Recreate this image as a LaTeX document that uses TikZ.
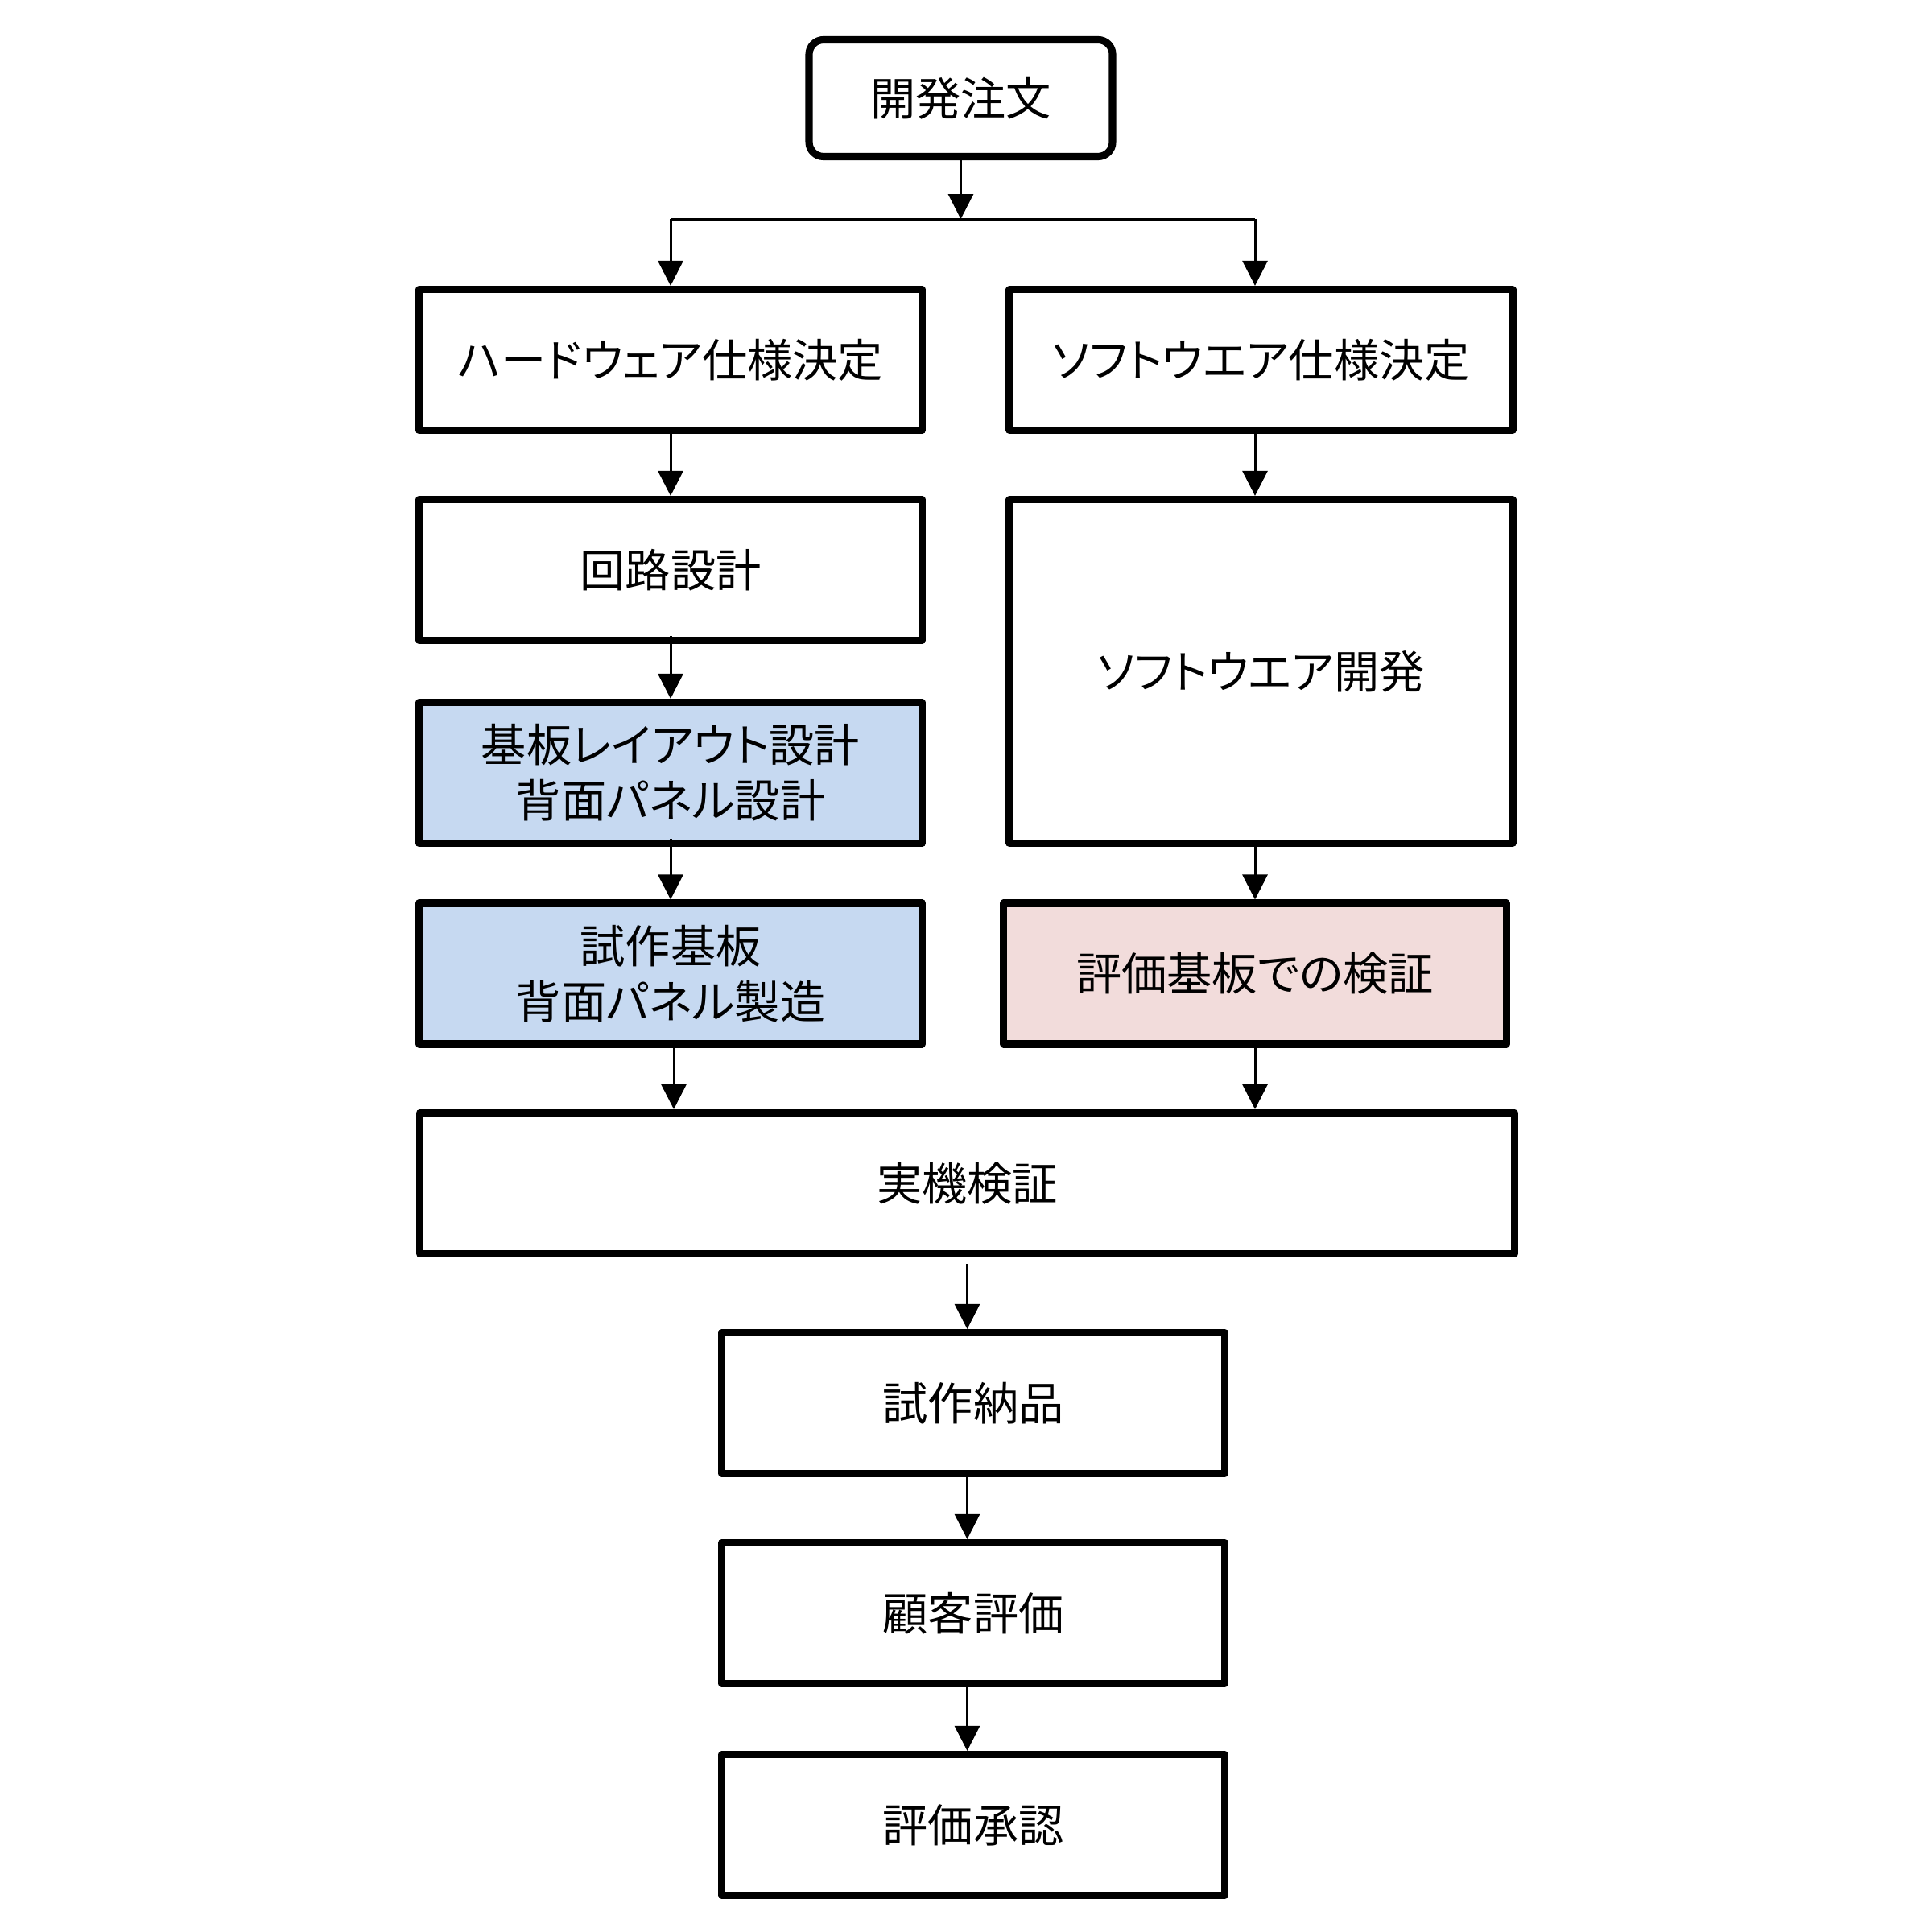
\documentclass[tikz,border=0pt]{standalone}
\usepackage{fontspec}
\setmainfont{Noto Sans CJK JP}[RawFeature={+palt}]
\usepackage{xcolor}
\usepackage{tikz}
\usetikzlibrary{shapes.geometric, arrows.meta, positioning, calc}
\definecolor{hwblue}{HTML}{C6D9F1}
\definecolor{evalpink}{HTML}{F2DCDB}
\tikzstyle{startstop} = [rectangle, rounded corners=0.18cm, minimum width=3.77cm, minimum height=1.45cm, text centered, draw=black, line width=2.6pt, font=\fontsize{16pt}{19.6pt}\selectfont]
\tikzstyle{process} = [rectangle, minimum width=6.25cm, minimum height=1.75cm, text centered, align=center, draw=black, line width=2.6pt, line join=round, fill=white, font=\fontsize{16pt}{19.6pt}\selectfont]
\tikzstyle{hwbox} = [process, fill=hwblue]
\tikzstyle{evalbox} = [process, fill=evalpink]
\tikzstyle{arrow} = [line width=0.85pt,-{Triangle[length=3.1mm,width=3.1mm]}]
\tikzstyle{conn} = [line width=0.85pt]

\begin{document}
\begin{tikzpicture}[node distance=2.61cm]
\useasboundingbox (0,0) rectangle (24,-24);

\node (order) [startstop] at (11.935,-1.22) {開発注文};
\node (hw) [process] at (8.33,-4.47) {ハードウェア仕様決定};
\node (sw) [process] at (15.665,-4.47) {ソフトウエア仕様決定};
\node (kairo) [process, below of=hw] {回路設計};
\node (kiban) [hwbox, below of=kairo, node distance=2.52cm] {基板レイアウト設計\\背面パネル設計};
\node (shisaku) [hwbox, below of=kiban, node distance=2.495cm] {試作基板\\背面パネル製造};
\node (swdev) [process, below of=sw, node distance=3.87cm, minimum height=4.27cm] {ソフトウエア開発};
\node (evalboard) [evalbox, right of=shisaku, node distance=7.26cm] {評価基板での検証};
\node (jikki) [process, minimum width=13.6cm] at (12.015,-14.70) {実機検証};
\node (nohin) [process] at (12.09,-17.43) {試作納品};
\node (kokyaku) [process, below of=nohin] {顧客評価};
\node (shonin) [process, below of=kokyaku, node distance=2.63cm] {評価承認};

\coordinate (split) at ($(order.south)+(0,-0.73)$);
\draw [arrow] (order) -- (split);
\draw [conn] (hw.north |- split) -- (evalboard.north |- split);
\draw [arrow] (hw.north |- split) -- (hw);
\draw [arrow] (evalboard.north |- split) -- (evalboard.north |- sw.north);
\draw [arrow] (hw) -- (kairo);
\draw [arrow] (evalboard.north |- sw.south) -- (evalboard.north |- swdev.north);
\draw [arrow] ([yshift=0.1cm]kairo.south) -- (kiban);
\draw [arrow] ([yshift=0.1cm]kiban.south) -- (shisaku);
\draw [arrow] (evalboard.north |- swdev.south) -- (evalboard);
\draw [arrow] ([xshift=0.04cm,yshift=0.1cm]shisaku.south) -- ([xshift=0.04cm]shisaku.south |- jikki.north);
\draw [arrow] (evalboard) -- (evalboard.south |- jikki.north);
\draw [arrow] ([yshift=-0.08cm]jikki.south) -- (jikki.south |- nohin.north);
\draw [arrow] (nohin.south -| jikki.south) -- (jikki.south |- kokyaku.north);
\draw [arrow] (kokyaku.south -| jikki.south) -- (jikki.south |- shonin.north);

\end{tikzpicture}
\end{document}
